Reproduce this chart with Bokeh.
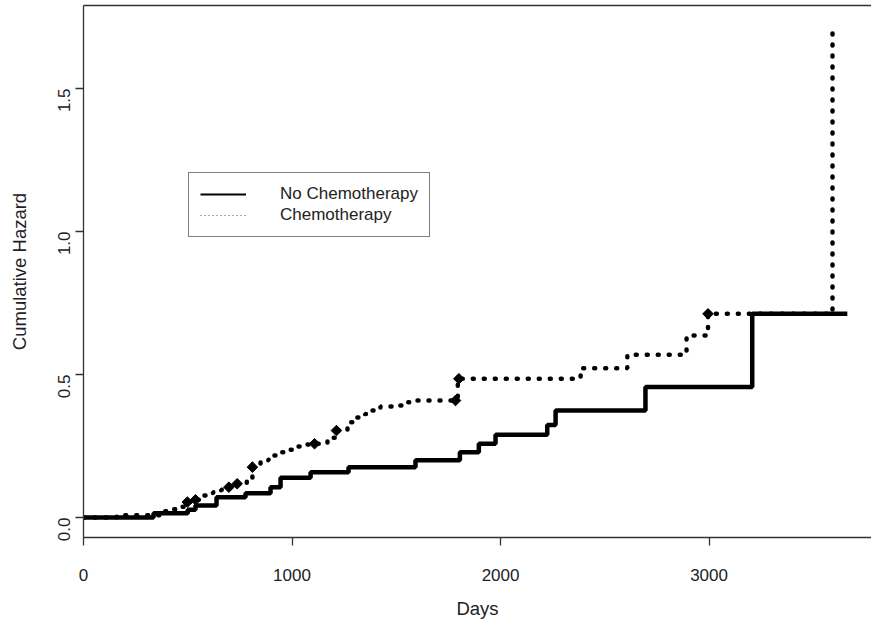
import math
from bokeh.plotting import figure
from bokeh.models import (Range1d, FixedTicker, LinearAxis, Legend, LegendItem,
                          PrintfTickFormatter)
from bokeh.embed import file_html
from bokeh.resources import INLINE

# ---- data ----
no_chemo_days = [0, 336, 500, 537, 638, 777, 897, 945, 1089, 1271, 1592, 1805,
                 1896, 1976, 2224, 2264, 2695, 3207, 3663]
no_chemo_hazard = [0.0, 0.015, 0.027, 0.042, 0.071, 0.085, 0.106, 0.139, 0.158,
                   0.176, 0.200, 0.228, 0.258, 0.289, 0.323, 0.374, 0.456, 0.712,
                   0.712]

chemo_days = [0, 160, 370, 413, 462, 498, 537, 577, 621, 660, 697, 737, 783, 810,
              849, 888, 929, 960, 1007, 1049, 1108, 1170, 1213, 1266, 1310, 1350,
              1385, 1424, 1480, 1528, 1568, 1795, 2384, 2608, 2892, 2995, 3592]
chemo_hazard = [0.0, 0.008, 0.022, 0.029, 0.038, 0.054, 0.062, 0.077, 0.088,
                0.097, 0.106, 0.118, 0.136, 0.176, 0.200, 0.217, 0.228, 0.237,
                0.248, 0.255, 0.258, 0.279, 0.304, 0.333, 0.350, 0.362, 0.374,
                0.388, 0.392, 0.403, 0.409, 0.485, 0.522, 0.569, 0.636, 0.712,
                1.72]

mark_days = [498, 537, 697, 737, 810, 1108, 1213, 1784, 1800, 2995]
mark_hazard = [0.054, 0.062, 0.106, 0.118, 0.176, 0.258, 0.304, 0.409, 0.485, 0.712]

x_ticks = [0, 1000, 2000, 3000]
y_ticks = [0.0, 0.5, 1.0, 1.5]

FONT = "Liberation Sans"
TXT = "#222222"
AX = "#333333"
NAN = float("nan")

p = figure(width=871, height=623, output_backend="svg", toolbar_location=None,
           x_range=Range1d(0, 3779), y_range=Range1d(-0.0699, 1.790),
           min_border_left=83, min_border_right=0, min_border_top=5,
           min_border_bottom=86, x_axis_label="Days",
           y_axis_label="Cumulative Hazard")
p.outline_line_color = None
p.xgrid.visible = False
p.ygrid.visible = False
p.background_fill_color = "white"
p.border_fill_color = "white"

for ax in (p.xaxis[0], p.yaxis[0]):
    ax.axis_line_color = AX
    ax.axis_line_width = 1.3
    ax.major_tick_line_color = AX
    ax.major_tick_line_width = 1.3
    ax.major_tick_out = 8
    ax.major_tick_in = 0
    ax.minor_tick_line_color = None
    ax.major_label_text_font = FONT
    ax.major_label_text_font_size = "17px"
    ax.major_label_text_color = TXT
    ax.axis_label_text_font = FONT
    ax.axis_label_text_font_size = "18.5px"
    ax.axis_label_text_font_style = "normal"
    ax.axis_label_text_color = TXT

p.xaxis[0].ticker = FixedTicker(ticks=x_ticks)
p.xaxis[0].major_label_standoff = 23
p.xaxis[0].axis_label_standoff = 14
p.yaxis[0].ticker = FixedTicker(ticks=y_ticks)
p.yaxis[0].formatter = PrintfTickFormatter(format="%.1f")
p.yaxis[0].major_label_orientation = math.pi / 2
p.yaxis[0].major_label_standoff = 11
p.yaxis[0].axis_label_standoff = 20

top = LinearAxis(ticker=FixedTicker(ticks=[]), major_tick_out=0, major_tick_in=0,
                 minor_tick_line_color=None, major_label_text_font_size="0px",
                 major_label_standoff=0, axis_line_color=AX, axis_line_width=1.3)
p.add_layout(top, "above")

# curves
p.step(no_chemo_days, no_chemo_hazard, mode="after", line_color="black",
       line_width=4.5)
p.step(chemo_days, chemo_hazard, mode="after", line_color="black", line_width=4.5,
       line_dash="1 10", line_cap="round")
p.scatter(mark_days, mark_hazard, marker="square", angle=math.pi / 4, size=7.5,
          color="black")

# legend sample renderers (thin lines, nothing drawn in the plot)
leg1 = p.line(x=[NAN], y=[NAN], line_color="black", line_width=2)
leg2 = p.line(x=[NAN], y=[NAN], line_color="#555555", line_width=1,
              line_dash="1 3")
legend = Legend(items=[LegendItem(label="No Chemotherapy", renderers=[leg1]),
                       LegendItem(label="Chemotherapy", renderers=[leg2])],
                location=(105, 300), border_line_color="black",
                border_line_width=1.2, background_fill_color="white",
                background_fill_alpha=1.0, padding=11, spacing=1, margin=0,
                label_height=20, glyph_height=20, glyph_width=46,
                label_standoff=34, label_text_font=FONT,
                label_text_font_size="17px", label_text_color=TXT)
p.add_layout(legend, "center")

open("out.html", "w").write(file_html(p, INLINE))
